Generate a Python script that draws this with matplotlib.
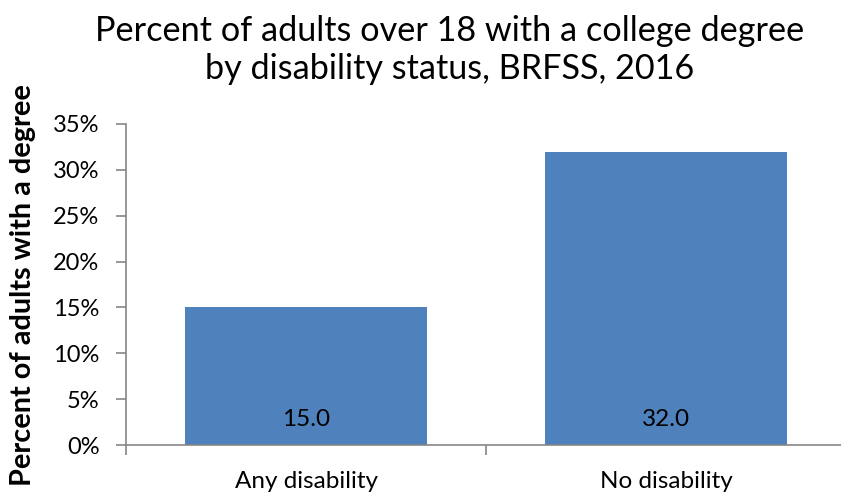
import matplotlib.pyplot as plt
import matplotlib.ticker as mticker

categories = ['Any disability', 'No disability']
values = [15.0, 32.0]
yticks = [0, 5, 10, 15, 20, 25, 30, 35]

plt.rcParams['font.family'] = ['Lato', 'DejaVu Sans']

fig = plt.figure(figsize=(8.41, 4.99), dpi=100)
ax = fig.add_axes([126 / 841, 1 - 445 / 499, 1 - 126 / 841, (445 - 124) / 499])

x = range(len(categories))
ax.bar(x, values, width=0.67, color='#4F81BD', zorder=2)
for i, v in enumerate(values):
    ax.annotate(f'{v:.1f}', (i, 0), xytext=(0, 18), textcoords='offset points',
                ha='center', va='center', fontsize=17.5, color='black')

ax.set_xlim(-0.5, 1.486)
ax.set_ylim(0, 35)
ax.set_yticks(yticks)
ax.yaxis.set_major_formatter(mticker.FuncFormatter(lambda v, p: f'{v:.0f}%'))
ax.set_xticks([0, 1])
ax.set_xticklabels(categories)
ax.set_xticks([-0.5, 0.5], minor=True)

for s in ['top', 'right']:
    ax.spines[s].set_visible(False)
for s in ['left', 'bottom']:
    ax.spines[s].set_color('#868686')
    ax.spines[s].set_linewidth(1.2)

ax.tick_params(axis='y', which='major', direction='out', length=7, color='#868686',
               width=1.2, labelsize=17, pad=12)
ax.tick_params(axis='x', which='major', length=0, labelsize=17.5, pad=19)
ax.tick_params(axis='x', which='minor', direction='out', length=7, color='#868686', width=1.2)

ax.set_ylabel('Percent of adults with a degree', fontsize=20.8, fontweight='bold')
ax.yaxis.set_label_coords(-0.126, 0.498)

fig.text(0.535, 0.9, 'Percent of adults over 18 with a college degree\nby disability status, BRFSS, 2016',
         ha='center', va='center', fontsize=24.7, linespacing=1.22)

fig.savefig('out.png', dpi=100)
